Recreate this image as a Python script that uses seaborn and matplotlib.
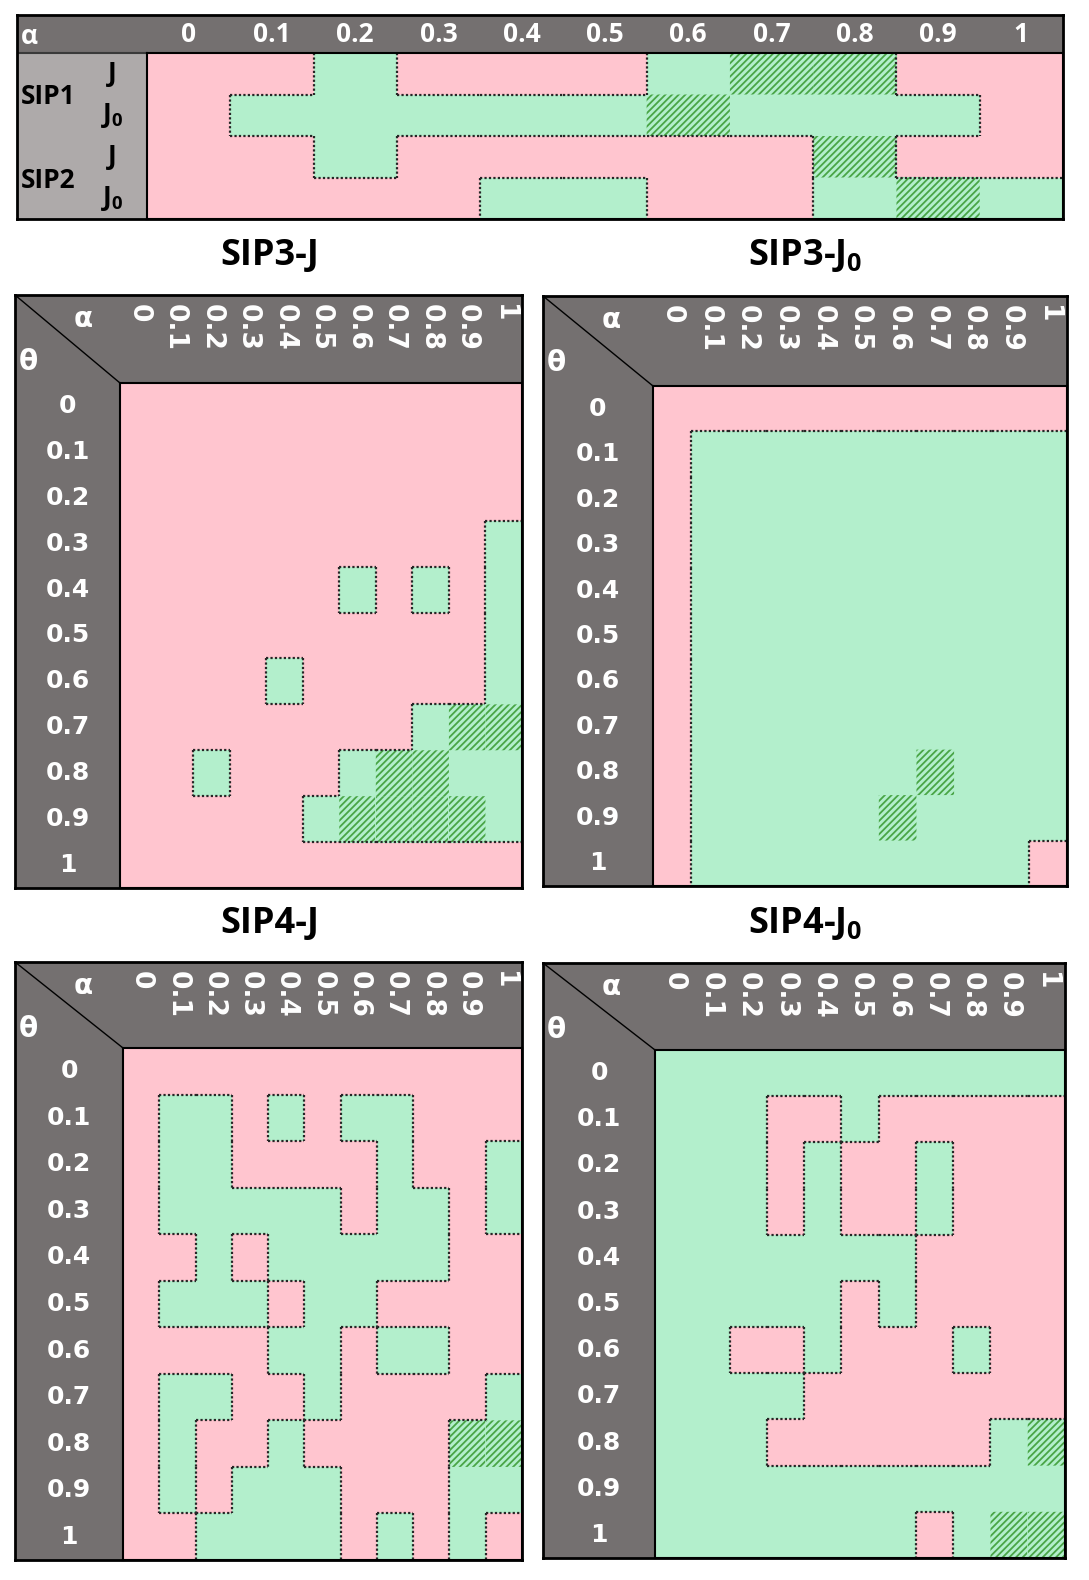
import numpy as np
import matplotlib
matplotlib.use('Agg')
import matplotlib.pyplot as plt
import seaborn as sns
from matplotlib.colors import ListedColormap
from matplotlib.collections import LineCollection
from matplotlib.patches import Rectangle

sns.set_theme(style='white')
plt.rcParams['font.family'] = ['Open Sans', 'DejaVu Sans']
plt.rcParams['font.weight'] = 'bold'
plt.rcParams['mathtext.fontset'] = 'custom'
plt.rcParams['mathtext.rm'] = 'Open Sans:bold'
plt.rcParams['mathtext.it'] = 'Open Sans:bold'
plt.rcParams['mathtext.bf'] = 'Open Sans:bold'
plt.rcParams['hatch.color'] = '#49a546'
plt.rcParams['hatch.linewidth'] = 1.3

# 0 = pink, 1 = green, 2 = green hatched (best)
alpha_ticks = ['0', '0.1', '0.2', '0.3', '0.4', '0.5', '0.6', '0.7', '0.8', '0.9', '1']
theta_ticks = ['0', '0.1', '0.2', '0.3', '0.4', '0.5', '0.6', '0.7', '0.8', '0.9', '1']

sip1_j = [0, 0, 1, 0, 0, 0, 1, 2, 2, 0, 0]
sip1_j0 = [0, 1, 1, 1, 1, 1, 2, 1, 1, 1, 0]
sip2_j = [0, 0, 1, 0, 0, 0, 0, 0, 2, 0, 0]
sip2_j0 = [0, 0, 0, 0, 1, 1, 0, 0, 1, 2, 1]
top_rows = ['J', '$J_0$', 'J', '$J_0$']

sip3_j = [
    [0, 0, 0, 0, 0, 0, 0, 0, 0, 0, 0],
    [0, 0, 0, 0, 0, 0, 0, 0, 0, 0, 0],
    [0, 0, 0, 0, 0, 0, 0, 0, 0, 0, 0],
    [0, 0, 0, 0, 0, 0, 0, 0, 0, 0, 1],
    [0, 0, 0, 0, 0, 0, 1, 0, 1, 0, 1],
    [0, 0, 0, 0, 0, 0, 0, 0, 0, 0, 1],
    [0, 0, 0, 0, 1, 0, 0, 0, 0, 0, 1],
    [0, 0, 0, 0, 0, 0, 0, 0, 1, 2, 2],
    [0, 0, 1, 0, 0, 0, 1, 2, 2, 1, 1],
    [0, 0, 0, 0, 0, 1, 2, 2, 2, 2, 1],
    [0, 0, 0, 0, 0, 0, 0, 0, 0, 0, 0],
]

sip3_j0 = [
    [0, 0, 0, 0, 0, 0, 0, 0, 0, 0, 0],
    [0, 1, 1, 1, 1, 1, 1, 1, 1, 1, 1],
    [0, 1, 1, 1, 1, 1, 1, 1, 1, 1, 1],
    [0, 1, 1, 1, 1, 1, 1, 1, 1, 1, 1],
    [0, 1, 1, 1, 1, 1, 1, 1, 1, 1, 1],
    [0, 1, 1, 1, 1, 1, 1, 1, 1, 1, 1],
    [0, 1, 1, 1, 1, 1, 1, 1, 1, 1, 1],
    [0, 1, 1, 1, 1, 1, 1, 1, 1, 1, 1],
    [0, 1, 1, 1, 1, 1, 1, 2, 1, 1, 1],
    [0, 1, 1, 1, 1, 1, 2, 1, 1, 1, 1],
    [0, 1, 1, 1, 1, 1, 1, 1, 1, 1, 0],
]

sip4_j = [
    [0, 0, 0, 0, 0, 0, 0, 0, 0, 0, 0],
    [0, 1, 1, 0, 1, 0, 1, 1, 0, 0, 0],
    [0, 1, 1, 0, 0, 0, 0, 1, 0, 0, 1],
    [0, 1, 1, 1, 1, 1, 0, 1, 1, 0, 1],
    [0, 0, 1, 0, 1, 1, 1, 1, 1, 0, 0],
    [0, 1, 1, 1, 0, 1, 1, 0, 0, 0, 0],
    [0, 0, 0, 0, 1, 1, 0, 1, 1, 0, 0],
    [0, 1, 1, 0, 0, 1, 0, 0, 0, 0, 1],
    [0, 1, 0, 0, 1, 0, 0, 0, 0, 2, 2],
    [0, 1, 0, 1, 1, 1, 0, 0, 0, 1, 1],
    [0, 0, 1, 1, 1, 1, 0, 1, 0, 1, 0],
]

sip4_j0 = [
    [1, 1, 1, 1, 1, 1, 1, 1, 1, 1, 1],
    [1, 1, 1, 0, 0, 1, 0, 0, 0, 0, 0],
    [1, 1, 1, 0, 1, 0, 0, 1, 0, 0, 0],
    [1, 1, 1, 0, 1, 0, 0, 1, 0, 0, 0],
    [1, 1, 1, 1, 1, 1, 1, 0, 0, 0, 0],
    [1, 1, 1, 1, 1, 0, 1, 0, 0, 0, 0],
    [1, 1, 0, 0, 1, 0, 0, 0, 1, 0, 0],
    [1, 1, 1, 1, 0, 0, 0, 0, 0, 0, 0],
    [1, 1, 1, 0, 0, 0, 0, 0, 0, 1, 2],
    [1, 1, 1, 1, 1, 1, 1, 1, 1, 1, 1],
    [1, 1, 1, 1, 1, 1, 1, 0, 1, 2, 2],
]

PINK = '#ffc5cf'
GREEN = '#b3efcc'
DARK = '#747070'
LIGHT = '#aeaaaa'
W, H = 1089, 1580


def fig_rect(x0, y0, x1, y1):
    return [x0 / W, 1 - y1 / H, (x1 - x0) / W, (y1 - y0) / H]


def frame(fig, box, data_box, left_color):
    ax = fig.add_axes(fig_rect(*box))
    ax.set_xlim(box[0], box[2])
    ax.set_ylim(box[3], box[1])
    ax.set_facecolor(DARK)
    ax.set_xticks([])
    ax.set_yticks([])
    for s in ax.spines.values():
        s.set_visible(True)
        s.set_color('black')
        s.set_linewidth(2)
    ax.add_patch(Rectangle((box[0], data_box[1]), data_box[0] - box[0],
                           box[3] - data_box[1], color=left_color, lw=0))
    return ax


def cells(fig, data_box, values, xlabels, ylabels):
    ax = fig.add_axes(fig_rect(*data_box))
    arr = np.array(values)
    n, m = arr.shape
    sns.heatmap(arr, ax=ax, cmap=ListedColormap([PINK, GREEN, GREEN]),
                vmin=-0.5, vmax=2.5, cbar=False,
                xticklabels=xlabels, yticklabels=ylabels)
    best = np.ma.masked_where(arr != 2, arr)
    ax.pcolor(best, cmap=ListedColormap([GREEN]), hatch='/////',
              edgecolors='none', linewidth=0, antialiased=False)
    # dotted outline between pink and green areas
    good = arr > 0
    segs = []
    for i in range(n):
        for j in range(m):
            if j + 1 < m and good[i, j] != good[i, j + 1]:
                segs.append([(j + 1, i), (j + 1, i + 1)])
            if i + 1 < n and good[i, j] != good[i + 1, j]:
                segs.append([(j, i + 1), (j + 1, i + 1)])
    ax.add_collection(LineCollection(segs, colors='#262626', linewidths=1.6,
                                     linestyles=(0, (1, 1))))
    ax.set_xlim(0, m)
    ax.set_ylim(n, 0)
    for s in ax.spines.values():
        s.set_visible(True)
        s.set_color('black')
        s.set_linewidth(1.5)
    ax.xaxis.tick_top()
    return ax


fig = plt.figure(figsize=(W / 100, H / 100), dpi=100)

# ---- SIP1 / SIP2 table
tbox = (17, 15, 1063, 219)
tdata = (147, 53, 1063, 219)
fax = frame(fig, tbox, tdata, LIGHT)
fax.plot([tbox[0], tdata[0]], [tdata[1], tdata[1]], color='#3a3a3a', lw=1.5)
fax.text(21, 36, 'α', color='white', fontsize=19, ha='left', va='center')
fax.text(21, 96, 'SIP1', color='black', fontsize=19, ha='left', va='center')
fax.text(21, 180, 'SIP2', color='black', fontsize=19, ha='left', va='center')

top = [sip1_j, sip1_j0, sip2_j, sip2_j0]
tax = cells(fig, tdata, top, alpha_ticks, top_rows)
tax.tick_params(axis='x', length=0, pad=(tdata[1] - tbox[1]) / 2 * 0.72,
                labelcolor='white', labelsize=19)
tax.tick_params(axis='y', length=0, pad=35 * 0.72, labelcolor='black', labelsize=19)
plt.setp(tax.get_xticklabels(), rotation=0, va='center', ha='center')
plt.setp(tax.get_yticklabels(), rotation=0, va='center', ha='center')

# ---- SIP3 / SIP4 grids
panels = [
    ('SIP3-J', (270, 256), (15, 295, 522, 888), (120, 383, 522, 888), sip3_j),
    ('SIP3-$J_0$', (805, 256), (543, 296, 1067, 886), (653, 386, 1067, 886), sip3_j0),
    ('SIP4-J', (270, 924), (15, 962, 522, 1560), (123, 1048, 522, 1560), sip4_j),
    ('SIP4-$J_0$', (805, 924), (543, 963, 1065, 1558), (655, 1050, 1065, 1558), sip4_j0),
]

for title, tpos, box, dbox, vals in panels:
    fig.text(tpos[0] / W, 1 - tpos[1] / H, title, ha='center', va='center',
             fontsize=26, color='black')
    fax = frame(fig, box, dbox, DARK)
    fax.plot([box[0], dbox[0]], [box[1], dbox[1]], color='black', lw=1)
    fax.text(box[0] + 68, box[1] + 24, 'α', color='white', fontsize=20,
             ha='center', va='center', family='DejaVu Sans')
    fax.text(box[0] + 13, box[1] + 67, 'θ', color='white', fontsize=20,
             ha='center', va='center', family='DejaVu Sans')
    ax = cells(fig, dbox, vals, alpha_ticks, theta_ticks)
    hdr = dbox[1] - box[1]
    lw_ = dbox[0] - box[0]
    ax.tick_params(axis='x', length=0, pad=(hdr - 9) * 0.72,
                   labelcolor='white', labelsize=19)
    ax.tick_params(axis='y', length=0, pad=lw_ / 2 * 0.72,
                   labelcolor='white', labelsize=18)
    plt.setp(ax.get_xticklabels(), rotation=270, va='top', ha='center',
             family='DejaVu Sans', weight='bold')
    plt.setp(ax.get_yticklabels(), rotation=0, va='center', ha='center',
             family='DejaVu Sans', weight='bold')

fig.savefig('out.png', dpi=100)
